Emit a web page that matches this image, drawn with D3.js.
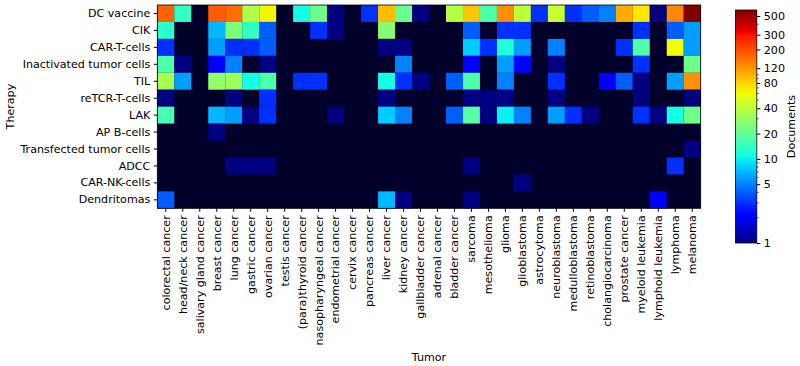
<!DOCTYPE html>
<html><head><meta charset="utf-8">
<script src="https://cdn.jsdelivr.net/npm/d3@7/dist/d3.min.js"></script>
<style>
html,body{margin:0;padding:0;background:#fff;}
text{font-family:"DejaVu Sans",sans-serif;fill:#000;}
</style></head>
<body>
<svg id="chart" width="800" height="366"></svg>
<script>
const tumors = ["colorectal cancer","head/neck cancer","salivary gland cancer","breast cancer","lung cancer","gastric cancer","ovarian cancer","testis cancer","(para)thyroid cancer","nasopharyngeal cancer","endometrial cancer","cervix cancer","pancreas cancer","liver cancer","kidney cancer","gallbladder cancer","adrenal cancer","bladder cancer","sarcoma","mesothelioma","glioma","glioblastoma","astrocytoma","neuroblastoma","medulloblastoma","retinoblastoma","cholangiocarcinoma","prostate cancer","myeloid leukemia","lymphoid leukemia","lymphoma","melanoma"];
const therapies = ["DC vaccine","CIK","CAR-T-cells","Inactivated tumor cells","TIL","reTCR-T-cells","LAK","AP B-cells","Transfected tumor cells","ADCC","CAR-NK-cells","Dendritomas"];
// documents per therapy (rows) x tumor (columns)
const dcVaccine    = [170,14,0,180,160,37,63,0,11,22,1,0,3,93,21,1,0,37,87,17,127,40,3,45,3,4,5,105,70,1,133,590];
const cik          = [13,0,0,7,25,14,4,0,0,3,1,0,0,26,0,0,0,0,4,0,3,3,0,0,0,0,0,0,3,0,4,6];
const carT         = [3,0,0,6,3,3,4,0,0,0,0,0,0,1,1,0,0,0,8,3,12,6,0,5,0,0,0,3,17,0,59,6];
const inactivated  = [17,1,0,2,5,0,1,0,0,0,0,0,0,0,5,0,0,0,2,0,6,2,0,1,0,0,0,0,3,0,0,22];
const til          = [34,6,0,28,32,11,17,0,3,3,0,0,0,11,3,1,0,4,17,0,5,0,0,3,0,0,2,4,1,0,6,125];
const reTCR        = [1,0,0,0,1,0,3,0,0,0,0,0,0,1,0,0,0,0,1,1,1,0,0,1,0,0,0,0,1,0,0,1];
const lak          = [16,0,0,7,6,1,3,0,0,0,1,0,0,8,5,0,0,4,18,1,10,5,0,6,3,1,0,0,3,1,11,22];
const apB          = [0,0,0,1,0,0,0,0,0,0,0,0,0,0,0,0,0,0,0,0,0,0,0,0,0,0,0,0,0,0,0,0];
const transfected  = [0,0,0,0,0,0,0,0,0,0,0,0,0,0,0,0,0,0,0,0,0,0,0,0,0,0,0,0,0,0,0,1];
const adcc         = [0,0,0,0,1,1,1,0,0,0,0,0,0,0,0,0,0,0,1,0,0,0,0,0,0,0,0,0,0,0,3,0];
const carNK        = [0,0,0,0,0,0,0,0,0,0,0,0,0,0,0,0,0,0,0,0,0,1,0,0,0,0,0,0,0,0,0,0];
const dendritomas  = [4,0,0,0,0,0,0,0,0,0,0,0,0,7,1,0,0,0,1,0,0,0,0,0,0,0,0,0,0,2,0,0];
const rows = [dcVaccine,cik,carT,inactivated,til,reTCR,lak,apB,transfected,adcc,carNK,dendritomas];
const cbTicks = [1,5,10,20,40,80,120,200,300,500];
const cbMinor = [2,3,4,6,7,8,9,30,50,60,70,90,100,400];
const vmax = 590;

// jet colormap (matplotlib segment data)
function seg(t, pts){
  for(let i=1;i<pts.length;i++){
    if(t<=pts[i][0]){const a=pts[i-1],b=pts[i];return a[1]+(b[1]-a[1])*(t-a[0])/(b[0]-a[0]);}
  }
  return pts[pts.length-1][1];
}
function jet(t){
  t=Math.max(0,Math.min(1,t));
  const r=seg(t,[[0,0],[0.35,0],[0.66,1],[0.89,1],[1,0.5]]);
  const g=seg(t,[[0,0],[0.125,0],[0.375,1],[0.64,1],[0.91,0],[1,0]]);
  const b=seg(t,[[0,0.5],[0.11,1],[0.34,1],[0.65,0],[1,0]]);
  return d3.rgb(r*255,g*255,b*255).toString();
}
const zeroColor = "#00002a";
const logS = d3.scaleLog().domain([1,vmax]).range([0,1]);
const color = v => v<=0 ? zeroColor : jet(logS(v));

const svg = d3.select("#chart");
const x = d3.scaleBand().domain(tumors).range([157.3,700.7]);
const y = d3.scaleBand().domain(therapies).range([5,208.3]);

svg.append("rect").attr("x",157.3).attr("y",5).attr("width",543.4).attr("height",203.3).attr("fill",zeroColor);

const cells=[];
rows.forEach((r,i)=>r.forEach((v,j)=>cells.push({t:therapies[i],c:tumors[j],v})));
svg.append("g").selectAll("rect").data(cells.filter(d=>d.v>0)).join("rect")
  .attr("x",d=>x(d.c)).attr("y",d=>y(d.t))
  .attr("width",x.bandwidth()).attr("height",y.bandwidth())
  .attr("fill",d=>color(d.v));

svg.append("rect").attr("x",157.3).attr("y",5).attr("width",543.4).attr("height",203.3)
  .attr("fill","none").attr("stroke","#000").attr("stroke-width",0.8);

const fs = "11.1px";
// x axis
const xa = svg.append("g").attr("transform","translate(0,208.3)")
  .call(d3.axisBottom(x).tickSize(3.5).tickPadding(3.5));
xa.select(".domain").remove();
xa.selectAll("text").attr("transform","rotate(-90)").attr("text-anchor","end")
  .attr("x",-7).attr("y",0).attr("dy","0.35em").style("font-size",fs).style("font-family","DejaVu Sans");
// y axis
const ya = svg.append("g").attr("transform","translate(157.3,0)")
  .call(d3.axisLeft(y).tickSize(3.5).tickPadding(3.5));
ya.select(".domain").remove();
ya.selectAll("text").style("font-size",fs).style("font-family","DejaVu Sans");

svg.append("text").attr("x",429).attr("y",361).attr("text-anchor","middle").style("font-size",fs).text("Tumor");
svg.append("text").attr("transform","translate(14,106.6) rotate(-90)").attr("text-anchor","middle").style("font-size",fs).text("Therapy");

// colorbar
const cbX=735.5, cbW=21.3, cbTop=10, cbBot=243;
const cy = d3.scaleLog().domain([1,vmax]).range([cbBot,cbTop]);
const defs = svg.append("defs");
const grad = defs.append("linearGradient").attr("id","cbg").attr("x1",0).attr("y1",1).attr("x2",0).attr("y2",0);
d3.range(0,1.0001,0.01).forEach(t=>grad.append("stop").attr("offset",t).attr("stop-color",jet(t)));
svg.append("rect").attr("x",cbX).attr("y",cbTop).attr("width",cbW).attr("height",cbBot-cbTop).attr("fill","url(#cbg)")
  .attr("stroke","#000").attr("stroke-width",0.8);
const cbg = svg.append("g").attr("transform",`translate(${cbX+cbW},0)`);
cbg.call(d3.axisRight(cy).tickValues(cbTicks).tickFormat(d3.format("d")).tickSize(3.5).tickPadding(3.5));
cbg.select(".domain").remove();
cbg.selectAll("text").style("font-size",fs).style("font-family","DejaVu Sans");
cbg.selectAll("line.minor").data(cbMinor).join("line").attr("class","minor")
  .attr("x1",0).attr("x2",2).attr("y1",d=>cy(d)).attr("y2",d=>cy(d)).attr("stroke","#000").attr("stroke-width",0.6);
svg.append("text").attr("transform",`translate(795,${(cbTop+cbBot)/2}) rotate(-90)`).attr("text-anchor","middle")
  .style("font-size",fs).text("Documents");
</script>
</body></html>
